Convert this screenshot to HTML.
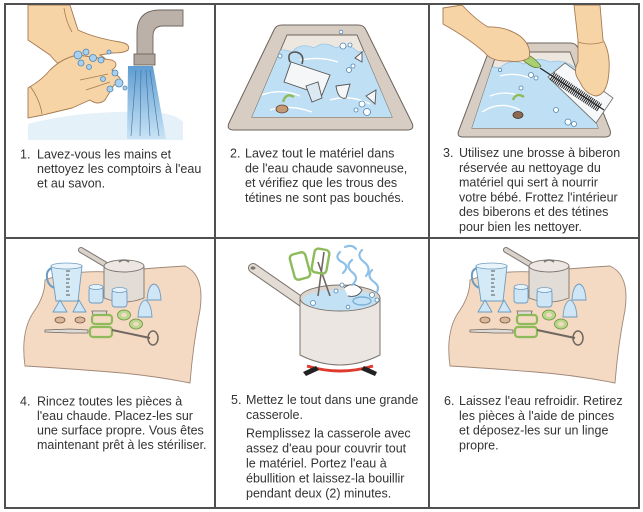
<!DOCTYPE html>
<html><head><meta charset="utf-8"><style>
html,body{margin:0;padding:0;background:#fff;}
svg{display:block;}
text{font-family:"Liberation Sans",Arial,sans-serif;font-size:12.5px;fill:#333;}
</style></head><body>
<svg width="643" height="512" viewBox="0 0 643 512" xmlns="http://www.w3.org/2000/svg">
<defs>
<linearGradient id="wat" x1="0" y1="0" x2="0" y2="1"><stop offset="0" stop-color="#5f9dd2"/><stop offset="1" stop-color="#c9e3f5"/></linearGradient>
<clipPath id="in2"><path d="M287,35 L357,35 L392,117 L252,117 Z"/></clipPath>
<clipPath id="in3"><path d="M497,52 L570,52 L598,128 L472,128 Z"/></clipPath>
<g id="cloth">
  <path d="M45,280 Q70,270 110,272 Q150,268 185,266 Q205,275 200,310 Q193,345 190,383 Q150,375 110,372 Q60,368 25,366 Q20,330 35,310 Q45,295 45,280 Z" fill="#f4d9c3" stroke="#a08878" stroke-width="0.9"/>
  <line x1="108" y1="266" x2="81" y2="250" stroke="#7c746d" stroke-width="6" stroke-linecap="round"/>
  <line x1="108" y1="266" x2="81" y2="250" stroke="#d9d2cb" stroke-width="4" stroke-linecap="round"/>
  <path d="M104,266 L104,298 Q124,306 144,298 L144,266 Z" fill="#e2dcd6" stroke="#7c746d" stroke-width="0.9"/>
  <ellipse cx="124" cy="266" rx="20" ry="6" fill="#ece7e2" stroke="#7c746d" stroke-width="0.9"/>
  <path d="M119,262 Q124,258 129,262" fill="none" stroke="#7c746d" stroke-width="1.5"/>
  <path d="M52,268 Q46,270 47,278 Q48,286 55,288" fill="none" stroke="#6d9cc0" stroke-width="2"/>
  <path d="M51,266 L82,266 L78,301 L56,301 Z" fill="#d5eaf7" stroke="#6d9cc0" stroke-width="0.9"/>
  <ellipse cx="66.5" cy="266" rx="15.5" ry="3" fill="#eaf4fb" stroke="#6d9cc0" stroke-width="0.8"/>
  <path d="M66,271 h4 M66,275 h3 M66,279 h4 M66,283 h3 M66,287 h4 M66,291 h3 M66,295 h4" stroke="#555" stroke-width="1"/>
  <rect x="89" y="287" width="14" height="16" rx="3" fill="#cfe6f6" stroke="#6d9cc0" stroke-width="0.9"/>
  <ellipse cx="96" cy="287" rx="7" ry="2.5" fill="#e6f2fb" stroke="#6d9cc0" stroke-width="0.8"/>
  <rect x="112" y="290" width="15" height="17" rx="3" fill="#cfe6f6" stroke="#6d9cc0" stroke-width="0.9"/>
  <ellipse cx="119.5" cy="290" rx="7.5" ry="2.5" fill="#e6f2fb" stroke="#6d9cc0" stroke-width="0.8"/>
  <path d="M147,300 Q148,285 154,284 Q160,285 161,300 Z" fill="#cfe6f6" stroke="#6d9cc0" stroke-width="0.9"/>
  <path d="M138,317 Q139,302 145,300 Q151,302 152,317 Z" fill="#cfe6f6" stroke="#6d9cc0" stroke-width="0.9"/>
  <path d="M53,312 L60,300 L67,312 Z" fill="#cfe6f6" stroke="#6d9cc0" stroke-width="0.9" stroke-linejoin="round"/>
  <path d="M73,312 L79,300 L86,312 Z" fill="#cfe6f6" stroke="#6d9cc0" stroke-width="0.9" stroke-linejoin="round"/>
  <ellipse cx="60" cy="320" rx="5" ry="3" fill="#d9b79a" stroke="#7a5a45" stroke-width="0.8"/>
  <ellipse cx="80" cy="320" rx="5" ry="3" fill="#d9b79a" stroke="#7a5a45" stroke-width="0.8"/>
  <path d="M45,330 L70,329 L88,330 L88,333 L70,333 L45,332 Z" fill="#e0dbd6" stroke="#6f6760" stroke-width="0.8"/>
  <path d="M92,311 L107,311 L106,315 L93,315 Z" fill="#e0dbd6" stroke="#6f6760" stroke-width="0.8"/>
  <rect x="92" y="315" width="20" height="9" rx="3" fill="none" stroke="#8dbb5a" stroke-width="2.2"/>
  <rect x="90" y="327" width="22" height="10" rx="3" fill="none" stroke="#8dbb5a" stroke-width="2.2"/>
  <path d="M112,330 L150,338" stroke="#6f6760" stroke-width="2"/>
  <ellipse cx="153" cy="338" rx="5" ry="7" fill="none" stroke="#6f6760" stroke-width="1.5"/>
  <ellipse cx="124" cy="315" rx="6.5" ry="5" fill="#b8d88c" stroke="#6d8f3f" stroke-width="0.8"/>
  <ellipse cx="124" cy="315" rx="3" ry="2.2" fill="#f4d9c3"/>
  <ellipse cx="136" cy="324" rx="6.5" ry="5" fill="#b8d88c" stroke="#6d8f3f" stroke-width="0.8"/>
  <ellipse cx="136" cy="324" rx="3" ry="2.2" fill="#f4d9c3"/>
</g>
</defs>

<!-- Panel 1 -->
<path d="M28,124 Q80,110 150,112 Q175,113 183,122 L183,140 L28,140 Z" fill="#e4f1f9"/>
<path d="M128,66 L153,66 L166,139 L127,139 Z" fill="url(#wat)"/>
<path d="M136,70 L131,136 M141,70 L140,136 M146,70 L150,136 M150,70 L159,136" stroke="#3f6f9a" stroke-width="0.6"/>
<path d="M183,10 L160,10 Q137,10 137,33 L137,55 L153,55 L153,36 Q153,26 163,26 L183,26 Z" fill="#bcb1a9" stroke="#6e655e" stroke-width="0.9"/>
<rect x="134" y="54" width="21" height="11" fill="#b0a59c" stroke="#6e655e" stroke-width="0.9"/>
<path d="M28,5 L70,5 L78,30 Q95,38 120,42 Q131,44 128,50 Q125,53 112,53 L100,55 Q112,62 108,68 L80,78 Q62,70 50,55 L28,40 Z" fill="#f7d4a6" stroke="#a57a52" stroke-width="0.9"/>
<path d="M64,8 Q66,22 72,32" fill="none" stroke="#a57a52" stroke-width="0.8"/>
<path d="M28,88 Q42,80 50,70 Q62,58 78,55 L112,60 Q120,64 112,70 L120,78 Q122,84 114,85 L105,100 Q98,106 90,100 L72,108 Q55,112 43,115 L28,118 Z" fill="#f7d4a6" stroke="#a57a52" stroke-width="0.9"/>
<path d="M30,86 Q40,100 42,114 M80,80 L108,74 M86,90 L110,82" fill="none" stroke="#a57a52" stroke-width="0.8"/>
<g fill="#a9d0ee" stroke="#4f86b4" stroke-width="0.8">
<circle cx="78" cy="55" r="4"/><circle cx="86" cy="52" r="3"/><circle cx="93" cy="58" r="3.5"/><circle cx="81" cy="63" r="3"/><circle cx="101" cy="60" r="3"/><circle cx="109" cy="52" r="2"/><circle cx="115" cy="73" r="3"/><circle cx="119" cy="83" r="4"/><circle cx="110" cy="89" r="3"/><circle cx="125" cy="88" r="2"/><circle cx="103" cy="79" r="2.5"/><circle cx="89" cy="67" r="2.5"/>
</g>

<!-- Panel 2 -->
<path d="M282,25 L358,25 Q364,25 366,30 L412,123 Q415,130 407,130 L234,130 Q226,130 229,123 L274,30 Q276,25 282,25 Z" fill="#d8cdc3" stroke="#6a625b" stroke-width="1"/>
<path d="M287,35 L357,35 L392,117 L252,117 Z" fill="#eee7e0" stroke="#6a625b" stroke-width="0.9"/>
<g clip-path="url(#in2)">
<path d="M250,66 Q258,54 270,58 Q278,46 292,52 Q300,42 314,48 Q324,40 336,48 Q348,42 358,52 Q372,50 376,62 Q390,66 395,80 L400,120 L245,120 Z" fill="#bfdff4" stroke="#9ac6e6" stroke-width="0.8"/>
<path d="M262,95 Q280,88 300,96 M330,100 Q350,94 370,104 M270,110 Q290,104 312,112 M300,60 Q320,56 338,62" stroke="#fff" stroke-width="1.4" fill="none"/>
</g>
<path d="M291,62 L330,75 L322,95 L284,82 Z" fill="#f4f6f8" stroke="#555" stroke-width="0.9"/>
<path d="M290,62 Q286,52 296,52 Q305,54 302,64" fill="none" stroke="#555" stroke-width="1.6"/>
<path d="M306,86 L318,82 L322,98 L312,102 Z" fill="#dbe9f3" stroke="#555" stroke-width="0.9"/>
<path d="M336,86 L350,84 L346,98 Q338,100 336,86 Z" fill="#f4f6f8" stroke="#555" stroke-width="0.9"/>
<path d="M366,96 L376,90 L375,104 Z" fill="#f4f6f8" stroke="#555" stroke-width="0.9"/>
<path d="M355,58 L362,52 L362,62 Z" fill="#f4f6f8" stroke="#555" stroke-width="0.9"/>
<path d="M283,102 Q286,92 294,97" fill="none" stroke="#8dbb5a" stroke-width="2.4"/>
<ellipse cx="282" cy="109" rx="6" ry="4" fill="#c59a72" stroke="#5d4330" stroke-width="0.8"/>
<g fill="#fff" stroke="#4f86b4" stroke-width="0.8">
<circle cx="343" cy="46" r="3"/><circle cx="350" cy="45" r="2"/><circle cx="349" cy="70" r="2.5"/><circle cx="353" cy="66" r="2"/><circle cx="362" cy="104" r="3"/><circle cx="367" cy="112" r="3.5"/><circle cx="356" cy="110" r="2"/><circle cx="280" cy="56" r="2"/><circle cx="341" cy="32" r="1.8"/>
</g>

<!-- Panel 3 -->
<path d="M497,43 L570,43 Q576,43 578,48 L610,130 Q612,137 605,137 L463,137 Q456,137 459,130 L490,48 Q492,43 497,43 Z" fill="#d8cdc3" stroke="#6a625b" stroke-width="1"/>
<path d="M497,52 L570,52 L598,128 L472,128 Z" fill="#eee7e0" stroke="#6a625b" stroke-width="0.9"/>
<g clip-path="url(#in3)">
<path d="M478,80 Q486,64 500,68 Q510,58 524,64 Q536,56 550,62 Q566,58 580,72 Q592,76 596,90 L600,130 L470,130 Z" fill="#bfdff4" stroke="#9ac6e6" stroke-width="0.8"/>
<path d="M482,112 Q500,100 520,110 M490,96 Q505,90 520,96 M500,76 Q515,72 530,78" stroke="#fff" stroke-width="1.3" fill="none"/>
</g>
<path d="M513,100 Q516,92 524,97" fill="none" stroke="#8dbb5a" stroke-width="2.4"/>
<ellipse cx="518" cy="115" rx="5" ry="3.5" fill="#8a6a52" stroke="#4a3628" stroke-width="0.8"/>
<g fill="#fff" stroke="#4f86b4" stroke-width="0.8"><circle cx="531" cy="75" r="2.5"/><circle cx="536" cy="78" r="2"/><circle cx="521" cy="88" r="2"/><circle cx="556" cy="110" r="2.5"/><circle cx="568" cy="122" r="3"/><circle cx="574" cy="124" r="2.5"/><circle cx="500" cy="70" r="1.6"/></g>
<path d="M548,77 L565,63 L613,98 L596,123 Z" fill="#f6f8fa" stroke="#777" stroke-width="0.9"/>
<path d="M540,68 L604,110" stroke="#222" stroke-width="1.2"/>
<path d="M552,76 L600,108" stroke="#222" stroke-width="9" stroke-dasharray="1 1"/>
<path d="M521,55 Q530,52 541,66 Q536,70 528,64 Q521,60 521,55 Z" fill="#a9cf72" stroke="#5f7e3a" stroke-width="0.8"/>
<path d="M443,8 L462,5 Q476,20 488,27 Q505,26 520,36 Q532,46 529,58 Q520,63 508,61 Q492,62 484,52 Q468,38 443,24 Z" fill="#f7d4a6" stroke="#a57a52" stroke-width="0.9"/>
<path d="M574,5 L600,5 L603,40 Q612,55 608,80 Q605,95 596,96 Q585,94 580,82 Q572,72 578,62 L578,40 Z" fill="#f7d4a6" stroke="#a57a52" stroke-width="0.9"/>
<path d="M578,42 Q590,46 603,42" fill="none" stroke="#a57a52" stroke-width="0.8"/>

<!-- Panel 4 & 6 -->
<use href="#cloth"/>
<use href="#cloth" transform="translate(425,0)"/>

<!-- Panel 5 -->
<line x1="253" y1="268" x2="302" y2="302" stroke="#7c746d" stroke-width="10" stroke-linecap="round"/>
<line x1="253" y1="268" x2="302" y2="302" stroke="#e2dcd5" stroke-width="8" stroke-linecap="round"/>
<ellipse cx="253" cy="268" rx="2.5" ry="1.6" fill="#7c746d"/>
<path d="M307,366 Q340,376 373,366" fill="none" stroke="#e03a2e" stroke-width="3"/>
<path d="M303,372 L316,366 L319,370 L306,376 Z M364,366 L377,372 L375,376 L361,370 Z" fill="#222"/>
<path d="M300,298 L300,355 Q340,375 380,355 L380,298 Z" fill="#ebe6e1" stroke="#7c746d" stroke-width="1"/>
<ellipse cx="340" cy="298" rx="40" ry="13" fill="#dcd5ce" stroke="#7c746d" stroke-width="1"/>
<ellipse cx="340" cy="300" rx="37" ry="10.5" fill="#c3e1f5"/>
<path d="M318,296 L324,252 M330,296 L318,262" stroke="#6f6760" stroke-width="1.6"/>
<rect x="292" y="253" width="16" height="26" rx="4" transform="rotate(-15 300 266)" fill="none" stroke="#8dbb5a" stroke-width="2.4"/>
<rect x="313" y="249" width="15" height="24" rx="4" transform="rotate(10 320 261)" fill="none" stroke="#8dbb5a" stroke-width="2.4"/>
<path d="M344,288 Q354,280 362,290 Q358,298 348,296" fill="#fff" stroke="#555" stroke-width="0.9"/>
<ellipse cx="362" cy="301" rx="9" ry="4" fill="none" stroke="#7ab0d6" stroke-width="1.4"/>
<g fill="#fff" stroke="#4f86b4" stroke-width="0.8"><circle cx="313" cy="303" r="2.5"/><circle cx="336" cy="291" r="2"/><circle cx="342" cy="285" r="2"/><circle cx="372" cy="295" r="2.5"/><circle cx="377" cy="300" r="2"/><circle cx="348" cy="307" r="1.8"/></g>
<path d="M340,252 Q334,258 342,262 Q350,266 343,273 M352,260 Q345,266 352,272 Q360,278 352,285 M362,250 Q356,256 364,262 Q372,268 366,276 M372,270 Q366,276 374,282 Q380,286 377,292 M345,247 Q352,244 356,249" fill="none" stroke="#8ec0e8" stroke-width="2.2" stroke-linecap="round"/>

<!-- Grid -->
<g stroke="#505050" stroke-width="2" fill="none">
<rect x="5" y="4" width="634" height="504"/>
<line x1="215" y1="4" x2="215" y2="508"/>
<line x1="429" y1="4" x2="429" y2="508"/>
<line x1="5" y1="238" x2="639" y2="238"/>
</g>

<!-- Text -->
<text x="20" y="158.5">1.</text>
<text x="37" y="158.5">Lavez-vous les mains et</text>
<text x="37" y="173">nettoyez les comptoirs à l'eau</text>
<text x="37" y="187.5">et au savon.</text>

<text x="230" y="157.5">2.</text>
<text x="245" y="157.5">Lavez tout le matériel dans</text>
<text x="245" y="172.3">de l'eau chaude savonneuse,</text>
<text x="245" y="187.1">et vérifiez que les trous des</text>
<text x="245" y="201.9">tétines ne sont pas bouchés.</text>

<text x="443" y="157">3.</text>
<text x="459" y="157">Utilisez une brosse à biberon</text>
<text x="459" y="171.8">réservée au nettoyage du</text>
<text x="459" y="186.6">matériel qui sert à nourrir</text>
<text x="459" y="201.4">votre bébé. Frottez l'intérieur</text>
<text x="459" y="216.2">des biberons et des tétines</text>
<text x="459" y="231">pour bien les nettoyer.</text>

<text x="20" y="405.5">4.</text>
<text x="37" y="405.5">Rincez toutes les pièces à</text>
<text x="37" y="420">l'eau chaude. Placez-les sur</text>
<text x="37" y="434.5">une surface propre. Vous êtes</text>
<text x="37" y="449">maintenant prêt à les stériliser.</text>

<text x="231" y="404">5.</text>
<text x="246" y="404">Mettez le tout dans une grande</text>
<text x="246" y="419">casserole.</text>
<text x="246" y="437.5">Remplissez la casserole avec</text>
<text x="246" y="452.5">assez d'eau pour couvrir tout</text>
<text x="246" y="467.5">le matériel. Portez l'eau à</text>
<text x="246" y="482.5">ébullition et laissez-la bouillir</text>
<text x="246" y="497.5">pendant deux (2) minutes.</text>

<text x="444" y="405">6.</text>
<text x="459" y="405">Laissez l'eau refroidir. Retirez</text>
<text x="459" y="419.8">les pièces à l'aide de pinces</text>
<text x="459" y="434.6">et déposez-les sur un linge</text>
<text x="459" y="449.4">propre.</text>
</svg>
</body></html>
